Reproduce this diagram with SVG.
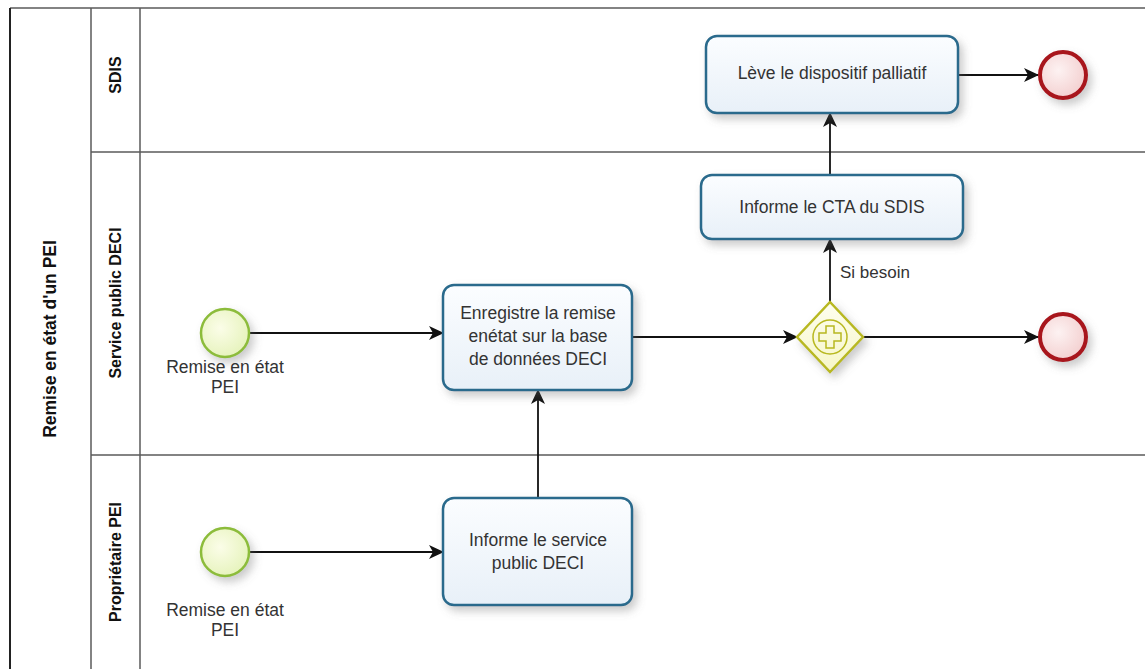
<svg xmlns="http://www.w3.org/2000/svg" width="1145" height="669" viewBox="0 0 1145 669">
<style>
.lane{stroke:#5a5a5a;stroke-width:1.5;fill:none}
.hdr{font-family:"Liberation Sans",Arial,sans-serif;font-weight:bold;font-size:16px;fill:#111;text-anchor:middle}
.task rect{fill:url(#tg);stroke:#2a6a8c;stroke-width:2.5}
.t{font-family:"Liberation Sans",Arial,sans-serif;font-size:17.5px;fill:#333;text-anchor:middle}
.lbl{font-family:"Liberation Sans",Arial,sans-serif;font-size:17px;fill:#333}
.start circle{fill:url(#sg);stroke:#8cbc3a;stroke-width:2.5}
.end circle{fill:url(#eg);stroke:#a8141e;stroke-width:4}
.conn path{stroke:#111;stroke-width:1.8;fill:none;marker-end:url(#arr)}
</style>
<defs>
<linearGradient id="tg" x1="0" y1="0" x2="0" y2="1"><stop offset="0" stop-color="#fbfdff"/><stop offset="1" stop-color="#e8f0f8"/></linearGradient>
<radialGradient id="sg" cx="0.4" cy="0.4" r="0.7"><stop offset="0" stop-color="#fbfde8"/><stop offset="1" stop-color="#e4f2b8"/></radialGradient>
<radialGradient id="eg" cx="0.4" cy="0.4" r="0.7"><stop offset="0" stop-color="#fdf2f2"/><stop offset="1" stop-color="#f2cccc"/></radialGradient>
<linearGradient id="gg" x1="0" y1="0" x2="0" y2="1"><stop offset="0" stop-color="#fefef0"/><stop offset="1" stop-color="#f6f6c8"/></linearGradient>
<filter id="sh" x="-20%" y="-20%" width="150%" height="160%"><feDropShadow dx="4" dy="5" stdDeviation="4" flood-color="#6a6a6a" flood-opacity="0.35"/></filter>
<marker id="arr" viewBox="0 0 15 14" refX="14" refY="7" markerWidth="15" markerHeight="14" markerUnits="userSpaceOnUse" orient="auto">
<path d="M0,0 L15,7 L0,14 L4,7 z" fill="#111"/>
</marker>
</defs>
<rect width="1145" height="669" fill="#fff"/>
<g id="pool">
<line x1="10" y1="8" x2="1145" y2="8" class="lane"/>
<line x1="10" y1="8" x2="10" y2="669" stroke="#222" stroke-width="2"/>
<line x1="91" y1="8" x2="91" y2="669" class="lane"/>
<line x1="140" y1="8" x2="140" y2="669" class="lane"/>
<line x1="91" y1="152" x2="1145" y2="152" class="lane"/>
<line x1="91" y1="455" x2="1145" y2="455" class="lane"/>
<text class="hdr" style="font-size:17.5px" transform="translate(56,339) rotate(-90)">Remise en état d'un PEI</text>
<text class="hdr" transform="translate(121,75) rotate(-90)">SDIS</text>
<text class="hdr" transform="translate(121,303) rotate(-90)">Service public DECI</text>
<text class="hdr" transform="translate(121,562) rotate(-90)">Propriétaire PEI</text>
</g>
<g id="conn" class="conn">
<path d="M250,333 L443,333"/>
<path d="M250,552 L443,552"/>
<path d="M538,498 L538,390"/>
<path d="M632,337 L797,337"/>
<path d="M863,337 L1038,337"/>
<path d="M830,302 L830,239"/>
<path d="M830,175 L830,113"/>
<path d="M958,75 L1038,75"/>
<text class="lbl" x="840" y="278">Si besoin</text>
</g>
<g id="start1" class="start" filter="url(#sh)"><circle cx="225" cy="333" r="24"/></g>
<text class="t" x="225" y="373">Remise en état</text>
<text class="t" x="225" y="393">PEI</text>
<g id="start2" class="start" filter="url(#sh)"><circle cx="225" cy="552" r="24"/></g>
<text class="t" x="225" y="616">Remise en état</text>
<text class="t" x="225" y="636">PEI</text>
<g id="task_enreg" class="task">
<rect x="443" y="285" width="189" height="105" rx="11" filter="url(#sh)"/>
<text class="t" x="538" y="319">Enregistre la remise</text>
<text class="t" x="538" y="342">enétat sur la base</text>
<text class="t" x="538" y="365">de données DECI</text>
</g>
<g id="task_info" class="task">
<rect x="443" y="498" width="189" height="107" rx="11" filter="url(#sh)"/>
<text class="t" x="538" y="546">Informe le service</text>
<text class="t" x="538" y="569">public DECI</text>
</g>
<g id="task_cta" class="task">
<rect x="701" y="175" width="262" height="64" rx="11" filter="url(#sh)"/>
<text class="t" x="832" y="213">Informe le CTA du SDIS</text>
</g>
<g id="task_leve" class="task">
<rect x="706" y="36" width="252" height="77" rx="11" filter="url(#sh)"/>
<text class="t" x="832" y="79">Lève le dispositif palliatif</text>
</g>
<g id="gateway">
<path d="M830,302 L863,337 L830,372 L797,337 z" fill="url(#gg)" stroke="#b8b820" stroke-width="2.5" filter="url(#sh)"/>
<circle cx="830" cy="337" r="17" fill="none" stroke="#b8b820" stroke-width="1.5"/>
<path d="M826,326 h8 v7 h7 v8 h-7 v7 h-8 v-7 h-7 v-8 h7 z" fill="none" stroke="#b8b820" stroke-width="1.5"/>
</g>
<g id="end1" class="end" filter="url(#sh)"><circle cx="1063" cy="75" r="23"/></g>
<g id="end2" class="end" filter="url(#sh)"><circle cx="1063" cy="337" r="23"/></g>
</svg>
